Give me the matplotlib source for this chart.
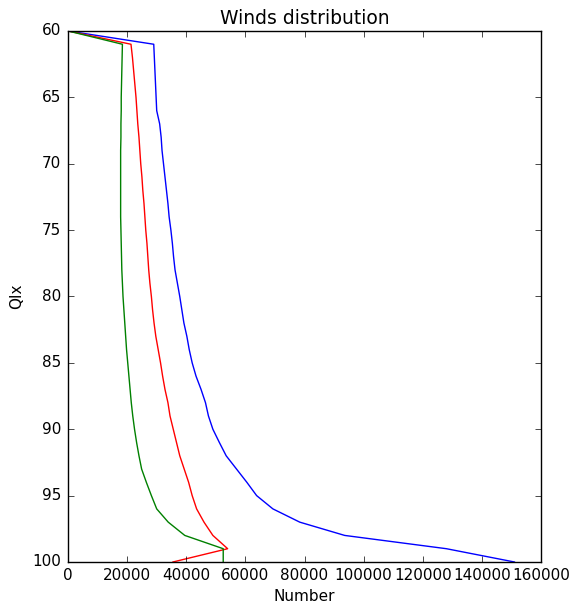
import matplotlib
matplotlib.use("Agg")
import matplotlib.pyplot as plt

# ============================================
# DATA
# ============================================

qix = list(range(60, 101))

blue_counts = [0, 29000, 29200, 29400, 29600, 29800, 30000, 31000, 31500, 31800,
               32300, 32800, 33300, 33800, 34200, 34800, 35300, 35700, 36200, 37000,
               37800, 38500, 39200, 40200, 41000, 42000, 43300, 45000, 46500, 47500,
               49000, 51200, 53500, 57000, 60500, 63800, 69300, 78400, 93600, 128000,
               151000]

red_counts = [0, 21300, 21800, 22200, 22600, 23000, 23300, 23600, 24000, 24300,
              24600, 25000, 25300, 25700, 26000, 26300, 26700, 27000, 27300, 27700,
              28200, 28600, 29100, 29700, 30500, 31300, 32000, 32800, 33800, 34500,
              35600, 36700, 37800, 39300, 40800, 42000, 43500, 46000, 49000, 54000,
              35500]

green_counts = [0, 18400, 18300, 18200, 18100, 18000, 18000, 17900, 17900, 17800,
                17800, 17800, 17800, 17800, 17800, 17900, 18000, 18100, 18200, 18400,
                18600, 18900, 19200, 19500, 19800, 20200, 20600, 21000, 21400, 21900,
                22500, 23200, 24000, 24900, 26500, 28200, 30000, 33900, 39500, 52500,
                52500]

# ============================================
# PLOT
# ============================================

plt.style.use("classic")

fig = plt.figure(figsize=(5.73, 6.05), dpi=100, facecolor="white")
ax = fig.add_axes([0.1187, 0.0711, 0.8255, 0.8777])

ax.plot(blue_counts, qix, color="b")
ax.plot(red_counts, qix, color="r")
ax.plot(green_counts, qix, color="g")

ax.set_xlim(0, 160000)
ax.set_ylim(100, 60)
ax.set_xticks(range(0, 160001, 20000))
ax.set_yticks(range(60, 101, 5))
ax.tick_params(labelsize=11)
ax.tick_params(axis="x", pad=4)
ax.tick_params(axis="y", pad=5)

ax.set_title("Winds distribution", fontsize=13.5, pad=5)
ax.set_xlabel("Number", fontsize=11, labelpad=5)
ax.set_ylabel("QIx", fontsize=11, labelpad=6)

fig.savefig("out.png", dpi=100, facecolor="white")
